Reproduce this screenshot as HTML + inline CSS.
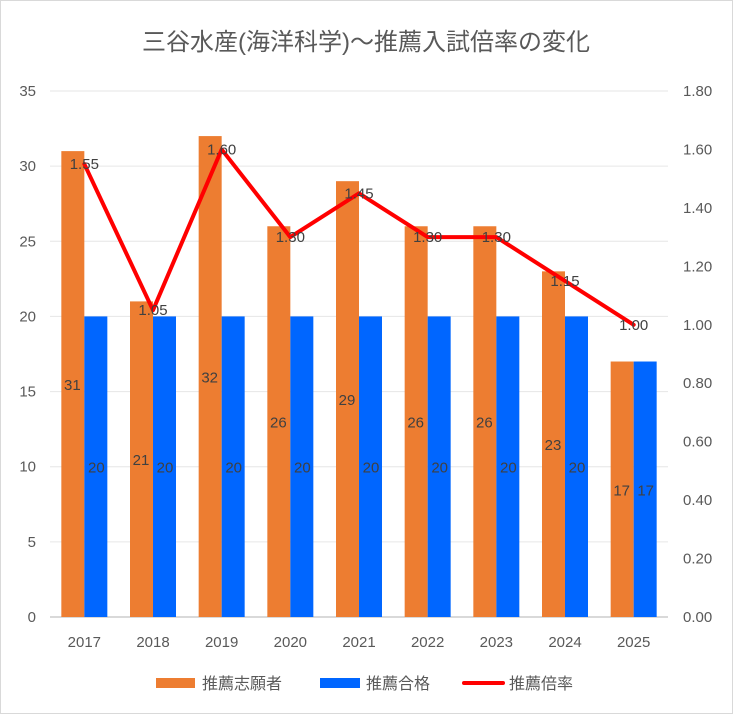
<!DOCTYPE html>
<html><head><meta charset="utf-8"><style>
body{margin:0;background:#fff;}
svg text{font-family:"Liberation Sans","Noto Sans CJK JP",sans-serif;}
</style></head><body>
<svg id="chart" width="733" height="714" xmlns="http://www.w3.org/2000/svg">
<rect x="0.5" y="0.5" width="732" height="713" fill="#fff" stroke="#d9d9d9"/>
<text x="366" y="50" font-size="24" fill="#595959" text-anchor="middle">三谷水産(海洋科学)～推薦入試倍率の変化</text>
<g id="grid"></g><g id="bars"></g><g id="line"></g><g id="labels"></g>
<g>
<rect x="156" y="678" width="39" height="10" fill="#ed7d31"/>
<text x="202" y="689" font-size="16" fill="#595959">推薦志願者</text>
<rect x="320" y="678" width="40" height="10" fill="#0066ff"/>
<text x="366" y="689" font-size="16" fill="#595959">推薦合格</text>
<line x1="464" y1="683" x2="503" y2="683" stroke="#ff0000" stroke-width="4" stroke-linecap="round"/>
<text x="509" y="689" font-size="16" fill="#595959">推薦倍率</text>
</g>
</svg>
<script>
const years=["2017","2018","2019","2020","2021","2022","2023","2024","2025"];
const applicants=[31,21,32,26,29,26,26,23,17];
const passed=[20,20,20,20,20,20,20,20,17];
const ratio=[1.55,1.05,1.60,1.30,1.45,1.30,1.30,1.15,1.00];
const leftTicks=[0,5,10,15,20,25,30,35];
const rightTicks=[0,0.2,0.4,0.6,0.8,1.0,1.2,1.4,1.6,1.8];
const NS="http://www.w3.org/2000/svg";
const x0=50,x1=668,yB=617,yT=91;
const step=(x1-x0)/years.length;
const cx=i=>x0+step*(i+0.5);
const yL=v=>yB-(v/35)*(yB-yT);
const yR=v=>yB-(v/1.8)*(yB-yT);
function mk(t,a,p){const e=document.createElementNS(NS,t);for(const k in a)e.setAttribute(k,a[k]);document.getElementById(p).appendChild(e);return e;}
leftTicks.forEach(v=>{
 const l=mk("line",{x1:x0,x2:x1,y1:yL(v),y2:yL(v),stroke:v===0?"#d9d9d9":"#e6e6e6","stroke-width":v===0?2:1},"grid");
 
 
 const t=mk("text",{x:36,y:yL(v)+5,"font-size":15,fill:"#595959","text-anchor":"end"},"grid");t.textContent=v;
 
 
});
rightTicks.forEach(v=>{
 const t=mk("text",{x:683,y:yR(v)+5,"font-size":15,fill:"#595959"},"grid");t.textContent=v.toFixed(2);
 
 
});
const bw=23;
years.forEach((y,i)=>{
 const c=cx(i);
 const t=mk("text",{x:c,y:647,"font-size":15,fill:"#595959","text-anchor":"middle"},"grid");t.textContent=y;
 
 
 const a=mk("rect",{x:c-bw,y:yL(applicants[i]),width:bw,height:yB-yL(applicants[i]),fill:"#ed7d31"},"bars");
 
 
 const b=mk("rect",{x:c,y:yL(passed[i]),width:bw,height:yB-yL(passed[i]),fill:"#0066ff"},"bars");
 
 
 const la=mk("text",{x:c-12,y:(yL(applicants[i])+yB)/2+6,"font-size":15,fill:"#404040","text-anchor":"middle"},"labels");la.textContent=applicants[i];
 
 
 const lb=mk("text",{x:c+12,y:(yL(passed[i])+yB)/2+6,"font-size":15,fill:"#404040","text-anchor":"middle"},"labels");lb.textContent=passed[i];
 
 
 const lr=mk("text",{x:c,y:yR(ratio[i])+5,"font-size":15,fill:"#404040","text-anchor":"middle"},"labels");lr.textContent=ratio[i].toFixed(2);
 
 
});
const pl=mk("polyline",{points:ratio.map((v,i)=>cx(i)+","+yR(v)).join(" "),fill:"none",stroke:"#ff0000","stroke-width":4,"stroke-linejoin":"round","stroke-linecap":"round"},"line");


</script>
</body></html>
